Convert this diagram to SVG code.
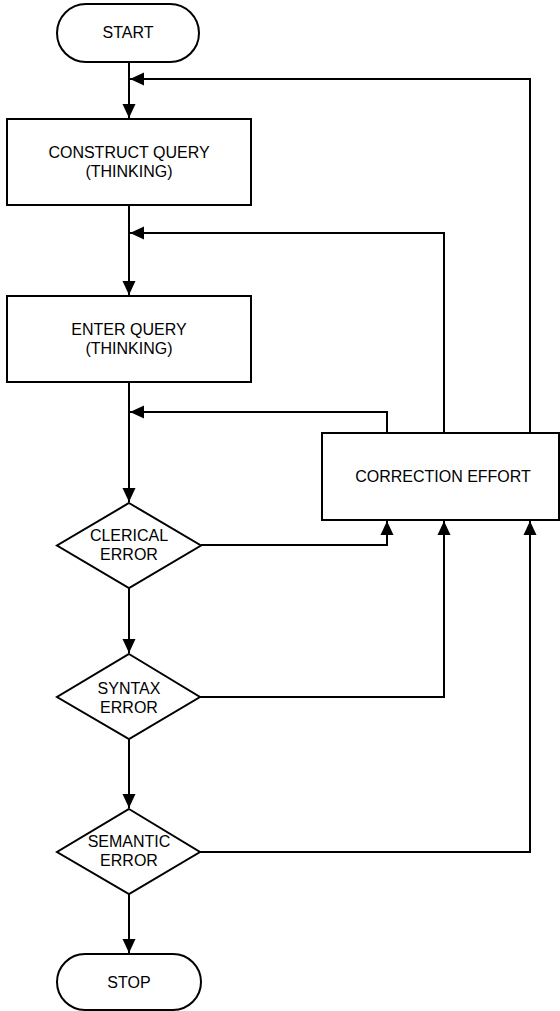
<svg xmlns="http://www.w3.org/2000/svg" width="560" height="1011" viewBox="0 0 560 1011">
<style>
.shape{fill:#fff;stroke:#000;stroke-width:2}
.conn{fill:none;stroke:#000;stroke-width:2}
text{font-family:"Liberation Sans",Arial,sans-serif;font-size:16px;fill:#000;text-anchor:middle}
</style>
<defs>
<marker id="arr" viewBox="0 0 14 14" refX="14" refY="7" markerWidth="14" markerHeight="14" markerUnits="userSpaceOnUse" orient="auto">
<path d="M0,0.5 L14,7 L0,13.5 z" fill="#000"/>
</marker>
</defs>
<rect width="560" height="1011" fill="#fff"/>
<g id="connectors">
<path class="conn" d="M129,62 V118" marker-end="url(#arr)"/>
<path class="conn" d="M129,205 V295" marker-end="url(#arr)"/>
<path class="conn" d="M129,382 V502" marker-end="url(#arr)"/>
<path class="conn" d="M129,588 V653" marker-end="url(#arr)"/>
<path class="conn" d="M129,739 V808" marker-end="url(#arr)"/>
<path class="conn" d="M129,894 V953" marker-end="url(#arr)"/>
<path class="conn" d="M201,545 H387 V521" marker-end="url(#arr)"/>
<path class="conn" d="M200,697 H444 V521" marker-end="url(#arr)"/>
<path class="conn" d="M200,852 H530 V521" marker-end="url(#arr)"/>
<path class="conn" d="M387,433 V412 H130" marker-end="url(#arr)"/>
<path class="conn" d="M444,433 V233 H130" marker-end="url(#arr)"/>
<path class="conn" d="M530,433 V79 H130" marker-end="url(#arr)"/>
</g>
<g id="start">
<rect class="shape" x="57" y="4" width="142" height="58" rx="29" ry="29"/>
<text x="128" y="38">START</text>
</g>
<g id="construct">
<rect class="shape" x="7" y="119" width="244" height="86"/>
<text x="129" y="158">CONSTRUCT QUERY</text>
<text x="129" y="177">(THINKING)</text>
</g>
<g id="enter">
<rect class="shape" x="7" y="296" width="244" height="86"/>
<text x="129" y="335">ENTER QUERY</text>
<text x="129" y="354">(THINKING)</text>
</g>
<g id="correction">
<rect class="shape" x="322" y="433" width="237" height="87"/>
<text x="443" y="482">CORRECTION EFFORT</text>
</g>
<g id="clerical">
<polygon class="shape" points="129,503 201,545.5 129,588 57,545.5"/>
<text x="129" y="541">CLERICAL</text>
<text x="129" y="560">ERROR</text>
</g>
<g id="syntax">
<polygon class="shape" points="129,654 200,697 129,739 57,697"/>
<text x="129" y="694">SYNTAX</text>
<text x="129" y="713">ERROR</text>
</g>
<g id="semantic">
<polygon class="shape" points="129,809 200,852 129,894 57,852"/>
<text x="129" y="847">SEMANTIC</text>
<text x="129" y="866">ERROR</text>
</g>
<g id="stop">
<rect class="shape" x="57" y="954" width="144" height="56" rx="28" ry="28"/>
<text x="129" y="988">STOP</text>
</g>
</svg>
